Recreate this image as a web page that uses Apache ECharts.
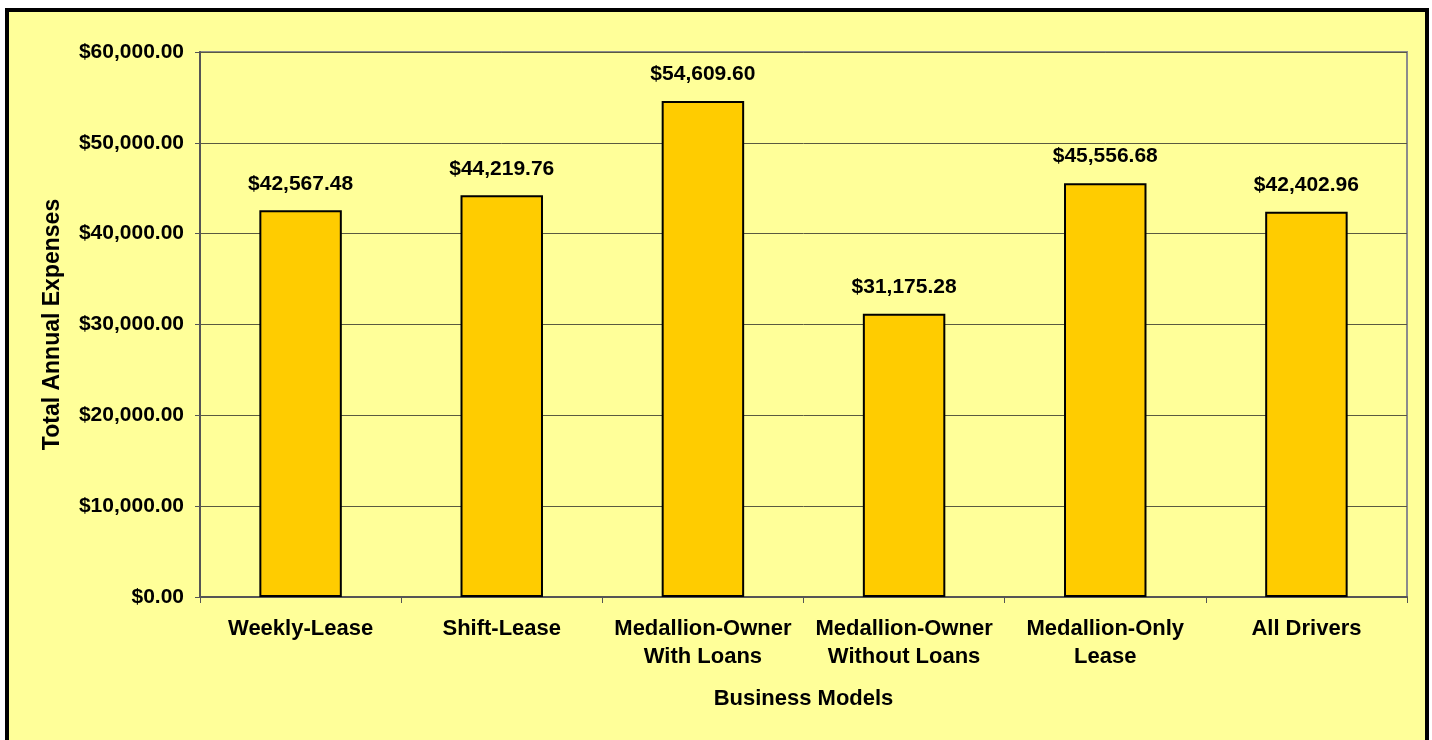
<!DOCTYPE html>
<html>
<head>
<meta charset="utf-8">
<script src="https://cdn.jsdelivr.net/npm/echarts@6/dist/echarts.min.js"></script>
<style>
  html, body { margin: 0; padding: 0; width: 1432px; height: 740px; overflow: hidden; background: #ffffff; }
  #frame { position: absolute; left: 5px; top: 8px; width: 1424px; height: 760px; box-sizing: border-box; border: 4px solid #000; background: #FFFF99; }
  #chart { position: absolute; left: 0; top: 0; width: 1432px; height: 740px; }
</style>
</head>
<body>
<div id="frame"></div>
<div id="chart"></div>
<script>
const categories = ['Weekly-Lease', 'Shift-Lease', 'Medallion-Owner\nWith Loans', 'Medallion-Owner\nWithout Loans', 'Medallion-Only\nLease', 'All Drivers'];
const expenses = [42567.48, 44219.76, 54609.60, 31175.28, 45556.68, 42402.96];
const yAxisTitle = 'Total Annual Expenses';
const xAxisTitle = 'Business Models';

function money(v) {
  return '$' + Number(v).toLocaleString('en-US', { minimumFractionDigits: 2, maximumFractionDigits: 2 });
}

const FONT = '"Liberation Sans", Arial, sans-serif';
const chart = echarts.init(document.getElementById('chart'), null, { renderer: 'canvas' });
chart.setOption({
  backgroundColor: 'transparent',
  animation: false,
  grid: { left: 200, top: 52, right: 25, bottom: 143, show: true, borderColor: '#8c8c8c', borderWidth: 2, backgroundColor: 'transparent' },
  xAxis: {
    type: 'category',
    data: categories,
    name: xAxisTitle,
    nameLocation: 'middle',
    nameGap: 91,
    nameTextStyle: { fontFamily: FONT, fontWeight: 'bold', fontSize: 22, color: '#000' },
    axisLine: { lineStyle: { color: '#555', width: 2 } },
    axisTick: { show: true, length: 6, lineStyle: { color: '#555', width: 1 } },
    axisLabel: { interval: 0, margin: 18, fontFamily: FONT, fontWeight: 'bold', fontSize: 22, lineHeight: 28, color: '#000' }
  },
  yAxis: {
    type: 'value',
    min: 0, max: 60000, interval: 10000,
    name: yAxisTitle,
    nameLocation: 'middle',
    nameRotate: 90,
    nameGap: 136,
    nameTextStyle: { fontFamily: FONT, fontWeight: 'bold', fontSize: 23, color: '#000' },
    axisLine: { show: true, lineStyle: { color: '#555', width: 2 } },
    axisTick: { show: true, length: 5, lineStyle: { color: '#555', width: 1 } },
    axisLabel: { margin: 16, fontFamily: FONT, fontWeight: 'bold', fontSize: 21, color: '#000', formatter: v => money(v) },
    splitLine: { show: true, lineStyle: { color: '#5a5a40', width: 1 } }
  },
  series: [{
    type: 'bar',
    data: expenses,
    barWidth: '41%',
    itemStyle: { color: '#FFCC00', borderColor: '#000', borderWidth: 2 },
    label: {
      show: true, position: 'top', distance: 16,
      fontFamily: FONT, fontWeight: 'bold', fontSize: 21, color: '#000',
      formatter: p => money(p.value)
    }
  }]
});
</script>
</body>
</html>
